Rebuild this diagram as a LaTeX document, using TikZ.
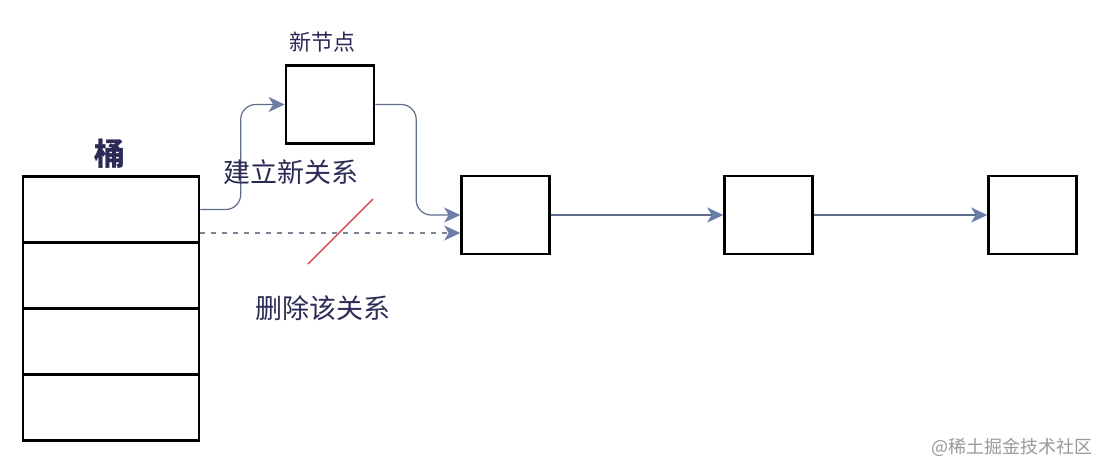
\documentclass[tikz,border=0pt]{standalone}
\usepackage{fontspec}
\setmainfont{Noto Sans CJK SC}
\usetikzlibrary{arrows.meta}
\definecolor{conncol}{HTML}{5F6E8C}
\definecolor{tipcol}{HTML}{6A7DA6}
\definecolor{txtcol}{HTML}{2B2B55}
\definecolor{dashcol}{HTML}{7C8494}
\definecolor{redcol}{HTML}{D8303E}
\tikzset{
  box/.style={draw=black, line width=2.6pt, fill=white, inner sep=0pt},
  cell/.style={box, minimum width=176pt, minimum height=66pt},
  lnode/.style={box, minimum width=88pt, minimum height=78pt},
  conn/.style={draw=conncol, line width=1.2pt, -{Stealth[length=16pt, width=15pt, inset=4.5pt, fill=tipcol, color=tipcol]}},
  dconn/.style={conn, draw=dashcol, dash pattern=on 5pt off 6pt},
  lbl/.style={text=txtcol, font=\fontsize{27}{30}\selectfont, inner sep=0pt},
}
\begin{document}
\begin{tikzpicture}[x=1pt, y=-1pt]
\useasboundingbox[fill=white] (0,0) rectangle (1100,464);
% bucket
\node[cell] (b1) at (111,209.5) {};
\node[cell] (b2) at (111,275.5) {};
\node[cell] (b3) at (111,341.5) {};
\node[cell] (b4) at (111,407.5) {};
\node[lbl, font=\bfseries\fontsize{31}{33}\selectfont] (bt) at (110,154) {桶};
% list nodes
\node[lnode] (nn) at (330,104.5) {};
\node[lbl, font=\fontsize{22}{24}\selectfont] (nnl) at (322,42) {新节点};
\node[lnode] (n1) at (505.5,215) {};
\node[lnode] (n2) at (768.5,215) {};
\node[lnode] (n3) at (1032.5,215) {};
% connectors
\draw[conn, rounded corners=15pt] (b1.east) -| ([xshift=-44pt]nn.west) -- (nn.west);
\draw[conn, rounded corners=15pt] (nn.east) -| ([xshift=-44pt]n1.west) -- (n1.west);
\draw[dconn] ([yshift=-23.5pt]b1.east) coordinate (d0) -- (d0 -| n1.west);
\draw[conn] (n1.east) -- (n2.west);
\draw[conn] (n2.east) -- (n3.west);
% red strike
\coordinate (r0) at (308,264);
\coordinate (r1) at (373,199);
\draw[redcol, line width=1.3pt] (r0) -- (r1);
% labels
\node[lbl] (l1) at (291,172) {建立新关系};
\node[lbl] (l2) at (323,308) {删除该关系};
\node[text=black!40, font=\fontsize{18}{20}\selectfont, anchor=east, inner sep=0pt] (wm) at (1093,447) {@稀土掘金技术社区};
\end{tikzpicture}
\end{document}
